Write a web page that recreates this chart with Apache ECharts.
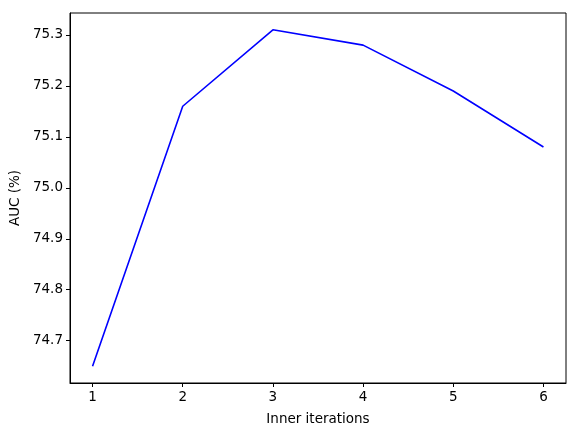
<!DOCTYPE html>
<html>
<head>
<meta charset="utf-8">
<script src="https://cdn.jsdelivr.net/npm/echarts@6/dist/echarts.min.js"></script>
<style>
html,body{margin:0;padding:0;background:#fff;}
#main{width:579px;height:436px;}
</style>
</head>
<body>
<div id="main"></div>
<script>
var iterations=[1,2,3,4,5,6];
var aucValues=[74.65,75.16,75.31,75.28,75.19,75.08];
var yTicks=[74.7,74.8,74.9,75.0,75.1,75.2,75.3];

var myChart=echarts.init(document.getElementById("main"));
var lineData=[];
for(var i=0;i<iterations.length;i++){
	lineData.push([iterations[i],aucValues[i]]);
}
//matplotlib style 5% margins
var yMin=Math.min.apply(null,aucValues),yMax=Math.max.apply(null,aucValues);
var yPad=(yMax-yMin)*0.05;
var xPad=(iterations[iterations.length-1]-iterations[0])*0.05;
var fontFam="DejaVu Sans";
var option={
	animation:false,
	grid:{left:70,right:13,top:13,bottom:53,show:true,borderColor:'#000',borderWidth:1,backgroundColor:'transparent'},
	xAxis:{
		type:'value',
		min:iterations[0]-xPad,
		max:iterations[iterations.length-1]+xPad,
		name:'Inner iterations',
		nameLocation:'middle',
		nameGap:29,
		nameTextStyle:{color:'#000',fontSize:13.5,fontFamily:fontFam},
		axisLine:{show:true,onZero:false,lineStyle:{color:'#000',width:1}},
		axisTick:{show:true,length:4,customValues:iterations,lineStyle:{color:'#000'}},
		axisLabel:{customValues:iterations,color:'#000',fontSize:13.5,fontFamily:fontFam,margin:7},
		splitLine:{show:false}
	},
	yAxis:{
		type:'value',
		min:yMin-yPad,
		max:yMax+yPad,
		name:'AUC (%)',
		nameLocation:'middle',
		nameRotate:90,
		nameGap:47,
		nameTextStyle:{color:'#000',fontSize:13.5,fontFamily:fontFam},
		axisLine:{show:true,onZero:false,lineStyle:{color:'#000',width:1}},
		axisTick:{show:true,length:4,customValues:yTicks,lineStyle:{color:'#000'}},
		axisLabel:{customValues:yTicks,color:'#000',fontSize:13.5,fontFamily:fontFam,margin:7,
			formatter:function(v){return v.toFixed(1);}},
		splitLine:{show:false}
	},
	series:[{
		type:'line',
		data:lineData,
		symbol:'none',
		lineStyle:{color:'#0000ff',width:1.6},
		itemStyle:{color:'#0000ff'}
	}]
};
myChart.setOption(option);
</script>
</body>
</html>
